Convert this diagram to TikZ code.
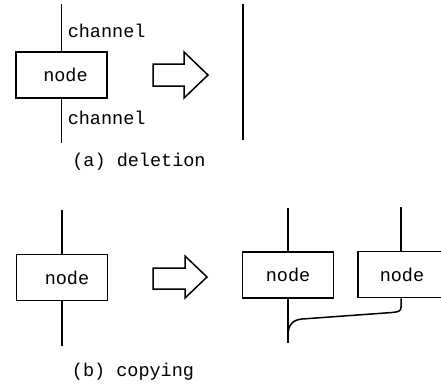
\documentclass[tikz,border=0pt]{standalone}
\usepackage{fontspec}
\setmonofont{Liberation Mono}
\begin{document}
\begin{tikzpicture}[x=1pt,y=-1pt,line width=1.5pt,
  box/.style={draw,line width=1.5pt,minimum width=91pt,minimum height=46pt,inner sep=0pt,font=\ttfamily\fontsize{18.5}{18.5}\selectfont},
  lbl/.style={font=\ttfamily\fontsize{18.5}{18.5}\selectfont,inner sep=0pt},
  chan/.style={line width=1.5pt},
  bigarrow/.style={draw,line width=1.5pt,line join=miter}]
\useasboundingbox (0,0) rectangle (441,386);
% (a) deletion
\node[box] (na) at (61.5,75) {\hspace{8pt}node};
\coordinate (na-top) at (61.5,4);
\coordinate (na-bot) at (61.5,143);
\draw[chan] (na-top) -- (na.north);
\draw[chan] (na.south) -- (na-bot);
\node[lbl,anchor=west] (ch1) at (67,31) {channel};
\node[lbl,anchor=west] (ch2) at (67,118) {channel};
\draw[bigarrow] (153,64) -- (184,64) -- (184,52) -- (208,75) -- (184,98) -- (184,86) -- (153,86) -- cycle;
\coordinate (ra-top) at (243,4);
\coordinate (ra-bot) at (243,140);
\draw[chan] (ra-top) -- (ra-bot);
\node[lbl] (capa) at (139,162) {(a) deletion};
% (b) copying
\node[box] (nb) at (62,277.5) {\hspace{10pt}node};
\coordinate (nb-top) at (62,210);
\coordinate (nb-bot) at (62,346);
\draw[chan] (nb-top) -- (nb.north);
\draw[chan] (nb.south) -- (nb-bot);
\draw[bigarrow] (153,268) -- (185,268) -- (185,256) -- (207,277) -- (185,298) -- (185,289) -- (153,289) -- cycle;
\node[box] (c1) at (288,275) {node\hspace{10pt}};
\node[box,anchor=west,minimum width=0pt,text width=60pt,inner xsep=22pt,align=left] (c2) at (357,274.5) {node};
\coordinate (c1-top) at (288,208);
\coordinate (c1-bot) at (288,343);
\coordinate (c2-top) at (401,207);
\draw[chan] (c1-top) -- (c1.north);
\draw[chan] (c1.south) -- (c1-bot);
\draw[chan] (c2-top) -- (c2-top |- c2.north);
\draw[chan] (c2-top |- c2.south) -- ++(0,9) .. controls +(0,4) and (398,312) .. (392,312.5) -- (302,319) .. controls (293,320) and (288,324) .. (288,336);
\node[lbl] (capb) at (133,372) {(b) copying};
\end{tikzpicture}
\end{document}
